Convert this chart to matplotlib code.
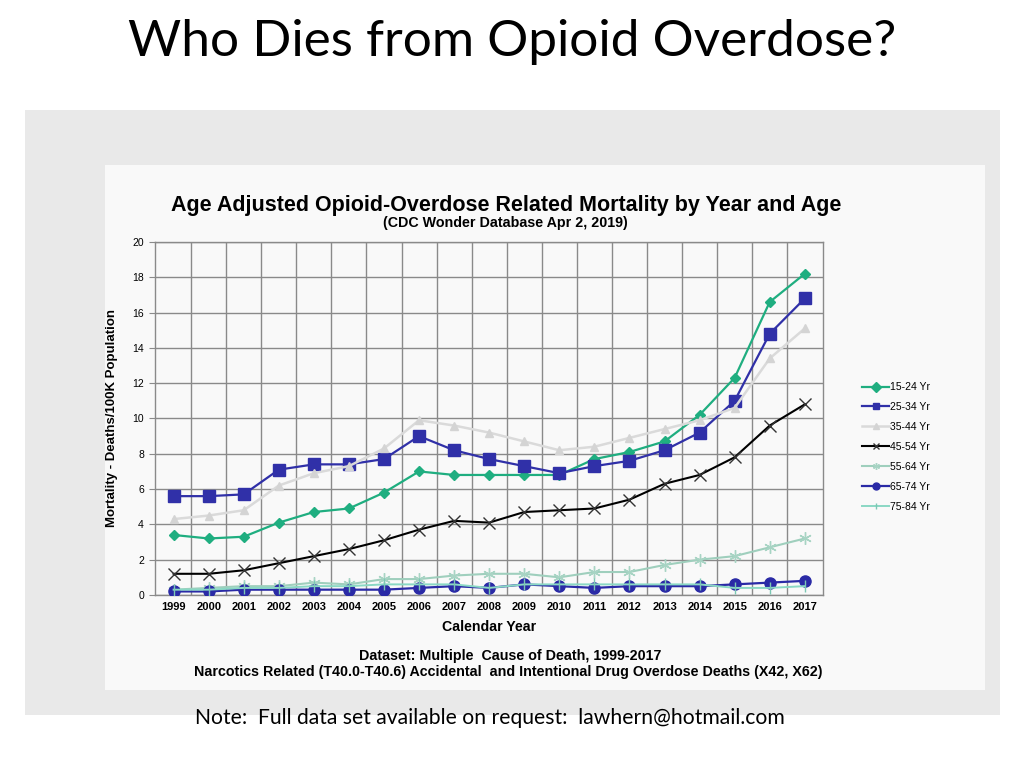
import numpy as np
import matplotlib
matplotlib.use("Agg")
import matplotlib.pyplot as plt
from matplotlib.patches import Rectangle

years = list(range(1999, 2018))

age_15_24 = [3.4, 3.2, 3.3, 4.1, 4.7, 4.9, 5.8, 7.0, 6.8, 6.8, 6.8, 6.8, 7.7, 8.1, 8.7, 10.2, 12.3, 16.6, 18.2]
age_25_34 = [5.6, 5.6, 5.7, 7.1, 7.4, 7.4, 7.7, 9.0, 8.2, 7.7, 7.3, 6.9, 7.3, 7.6, 8.2, 9.2, 11.0, 14.8, 16.8]
age_35_44 = [4.3, 4.5, 4.8, 6.2, 6.9, 7.3, 8.3, 9.9, 9.6, 9.2, 8.7, 8.2, 8.4, 8.9, 9.4, 9.9, 10.6, 13.4, 15.1]
age_45_54 = [1.2, 1.2, 1.4, 1.8, 2.2, 2.6, 3.1, 3.7, 4.2, 4.1, 4.7, 4.8, 4.9, 5.4, 6.3, 6.8, 7.8, 9.6, 10.8]
age_55_64 = [0.3, 0.4, 0.5, 0.5, 0.7, 0.6, 0.9, 0.9, 1.1, 1.2, 1.2, 1.0, 1.3, 1.3, 1.7, 2.0, 2.2, 2.7, 3.2]
age_65_74 = [0.2, 0.2, 0.3, 0.3, 0.3, 0.3, 0.3, 0.4, 0.5, 0.4, 0.6, 0.5, 0.4, 0.5, 0.5, 0.5, 0.6, 0.7, 0.8]
age_75_84 = [0.3, 0.3, 0.4, 0.4, 0.5, 0.5, 0.6, 0.6, 0.6, 0.4, 0.6, 0.6, 0.6, 0.6, 0.6, 0.6, 0.4, 0.4, 0.5]

labels = ["15-24 Yr", "25-34 Yr", "35-44 Yr", "45-54 Yr", "55-64 Yr", "65-74 Yr", "75-84 Yr"]

fig = plt.figure(figsize=(10.24, 7.68), dpi=100)
fig.patch.set_facecolor("white")

# slide background (the textured picture behind the chart)
bg = fig.add_axes([0, 0, 1, 1])
bg.set_xlim(0, 1024)
bg.set_ylim(768, 0)
bg.axis("off")
bg.add_patch(Rectangle((25, 110), 975, 605, facecolor="#e9e9e9", edgecolor="none"))
bg.add_patch(Rectangle((105, 165), 880, 525, facecolor="#f9f9f9", edgecolor="none"))

fig.text(0.5, 0.945, "Who Dies from Opioid Overdose?", ha="center", va="center",
         fontsize=37, family="Lato", color="#000000")

ax = fig.add_axes([0.1514, 0.2253, 0.6523, 0.4596])
ax.set_facecolor("none")

styles = [
    (age_15_24, "#1fae80", "D", 5, 1.6, "#1fae80"),
    (age_25_34, "#3030a8", "s", 9, 1.6, "#3030a8"),
    (age_35_44, "#dadada", "^", 6, 1.8, "#d4d4d4"),
    (age_45_54, "#000000", "x", 8, 1.5, "#333333"),
    (age_55_64, "#9fcfbd", (6, 2, 0), 9, 1.5, "#a8d4c4"),
    (age_65_74, "#2a2aa6", "o", 8, 1.6, "#2a2aa6"),
    (age_75_84, "#8ad8c4", "|", 8, 1.4, "#7cc8b4"),
]
order = [2, 4, 6, 3, 5, 0, 1]
handles = [None] * 7
for i in order:
    vals, col, mk, ms, lw, mcol = styles[i]
    h, = ax.plot(years, vals, color=col, marker=mk, markersize=ms, lw=lw,
                 markerfacecolor=mcol, markeredgecolor=mcol, label=labels[i], zorder=3 + i * 0.1)
    handles[i] = h

ax.set_xlim(1998.47, 2017.52)
ax.set_ylim(0, 20)
ax.set_xticks(years)
ax.set_xticks(np.arange(1999.5, 2017.5, 1), minor=True)
ax.set_yticks(range(0, 21, 2))
ax.grid(False)
ax.grid(True, which="minor", axis="x", color="#8a8a8a", lw=1)
ax.grid(True, which="major", axis="y", color="#8a8a8a", lw=1)
ax.tick_params(axis="x", which="both", length=0, pad=5)
ax.tick_params(axis="y", length=4, color="#8a8a8a", pad=4)
for lab in ax.get_xticklabels():
    lab.set_fontweight("bold")
    lab.set_fontsize(8)
    lab.set_family("Liberation Sans")
for lab in ax.get_yticklabels():
    lab.set_fontsize(7.5)
    lab.set_family("Liberation Sans")
for s in ax.spines.values():
    s.set_color("#8a8a8a")
    s.set_linewidth(1)

ax.set_xlabel("Calendar Year", fontsize=10.2, fontweight="bold", family="Liberation Sans", labelpad=6)
ax.set_ylabel("Mortality - Deaths/100K Population", fontsize=9.5, fontweight="bold",
              family="Liberation Sans", labelpad=10)

fig.text(0.494, 0.733, "Age Adjusted Opioid-Overdose Related Mortality by Year and Age",
         ha="center", va="center", fontsize=15.5, fontweight="bold", family="Liberation Sans")
fig.text(0.494, 0.710, "(CDC Wonder Database Apr 2, 2019)", ha="center", va="center",
         fontsize=10.3, fontweight="bold", family="Liberation Sans")
fig.text(0.498, 0.146, "Dataset: Multiple  Cause of Death, 1999-2017", ha="center", va="center",
         fontsize=10.3, fontweight="bold", family="Liberation Sans")
fig.text(0.496, 0.125, "Narcotics Related (T40.0-T40.6) Accidental  and Intentional Drug Overdose Deaths (X42, X62)",
         ha="center", va="center", fontsize=10.3, fontweight="bold", family="Liberation Sans")

leg = fig.legend(handles=handles, labels=labels, loc="upper left", bbox_to_anchor=(0.833, 0.5145),
                 frameon=False, handlelength=2.6, handletextpad=0.1,
                 labelspacing=0.95, prop={"family": "Liberation Sans", "size": 7.5})
for h in leg.legend_handles:
    h.set_markersize(5)

fig.text(0.19, 0.065, "Note:  Full data set available on request:  lawhern@hotmail.com",
         ha="left", va="center", fontsize=15.2, family="Lato")

fig.savefig("out.png", dpi=100)
